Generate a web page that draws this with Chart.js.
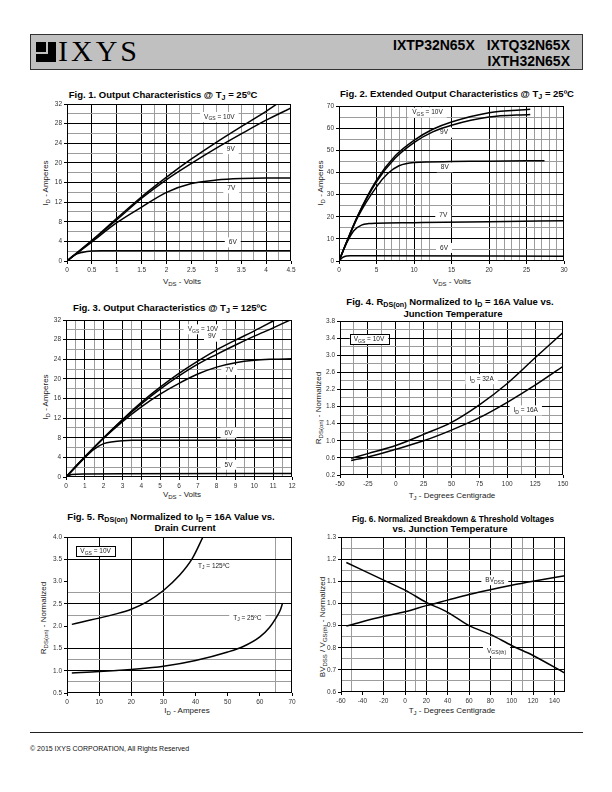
<!DOCTYPE html>
<html>
<head>
<meta charset="utf-8">
<script src="https://cdn.jsdelivr.net/npm/chart.js@4/dist/chart.umd.min.js"></script>
<style>
  body { margin:0; width:612px; height:792px; position:relative; background:#fff; overflow:hidden;
         font-family:"Liberation Sans", Arial, sans-serif; }
  canvas { position:absolute; }
  .ttl { position:absolute; transform:translate(-50%,-50%); white-space:nowrap; color:#000;
         font:bold 9.5px "Liberation Sans Narrow","Arial Narrow","Liberation Sans",sans-serif; }
  .ax { position:absolute; transform:translate(-50%,-50%); white-space:nowrap; color:#222;
        font:8px "Liberation Sans", Arial, sans-serif; }
  .ay { position:absolute; transform:translate(-50%,-50%) rotate(-90deg); white-space:nowrap; color:#222;
        font:8px "Liberation Sans", Arial, sans-serif; }
  sub { font-size:75%; vertical-align:-2px; line-height:0; }
</style>
</head>
<body>

<!-- header -->
<div style="position:absolute;left:30px;top:34px;width:551px;height:34px;background:#c0c0c0;border:1px solid #333"></div>
<div style="position:absolute;left:36px;top:42px;width:20px;height:20px;background:#000"></div>
<div style="position:absolute;left:46px;top:42px;width:2px;height:12px;background:#c0c0c0"></div>
<div style="position:absolute;left:36px;top:52px;width:12px;height:2px;background:#c0c0c0"></div>
<div style="position:absolute;left:58px;top:36px;font:30px 'Liberation Serif',serif;line-height:30px;letter-spacing:3px;color:#000">IXYS</div>
<div style="position:absolute;right:42px;top:37px;font:bold 14px 'Liberation Sans',Arial,sans-serif;line-height:16px">IXTP32N65X<span style="margin-left:12px">IXTQ32N65X</span></div>
<div style="position:absolute;right:42px;top:53px;font:bold 14px 'Liberation Sans',Arial,sans-serif;line-height:16px">IXTH32N65X</div>

<!-- titles -->
<div class="ttl" style="left:163px;top:94px">Fig. 1. Output Characteristics @ T<sub>J</sub> = 25ºC</div>
<div class="ttl" style="left:457px;top:93px">Fig. 2. Extended Output Characteristics @ T<sub>J</sub> = 25ºC</div>
<div class="ttl" style="left:170px;top:307px">Fig. 3. Output Characteristics @ T<sub>J</sub> = 125ºC</div>
<div class="ttl" style="left:450px;top:301px">Fig. 4. R<sub>DS(on)</sub> Normalized to I<sub>D</sub> = 16A Value vs.</div>
<div class="ttl" style="left:453px;top:313px">Junction Temperature</div>
<div class="ttl" style="left:171px;top:516px">Fig. 5. R<sub>DS(on)</sub> Normalized to I<sub>D</sub> = 16A Value vs.</div>
<div class="ttl" style="left:185px;top:527px">Drain Current</div>
<div class="ttl" style="left:453px;top:518px;transform:translate(-50%,-50%) scaleX(0.86)">Fig. 6. Normalized Breakdown &amp; Threshold Voltages</div>
<div class="ttl" style="left:450px;top:528px">vs. Junction Temperature</div>

<!-- axis titles -->
<div class="ax" style="left:182px;top:281px">V<sub>DS</sub> - Volts</div>
<div class="ay" style="left:45px;top:183px">I<sub>D</sub> - Amperes</div>
<div class="ax" style="left:452px;top:281px">V<sub>DS</sub> - Volts</div>
<div class="ay" style="left:320px;top:183px">I<sub>D</sub> - Amperes</div>
<div class="ax" style="left:182px;top:494px">V<sub>DS</sub> - Volts</div>
<div class="ay" style="left:45px;top:397px">I<sub>D</sub> - Amperes</div>
<div class="ax" style="left:452px;top:495px">T<sub>J</sub> - Degrees Centigrade</div>
<div class="ay" style="left:318px;top:408px">R<sub>DS(on)</sub> - Normalized</div>
<div class="ax" style="left:187px;top:710px">I<sub>D</sub> - Amperes</div>
<div class="ay" style="left:43px;top:618px">R<sub>DS(on)</sub> - Normalized</div>
<div class="ax" style="left:452px;top:710px">T<sub>J</sub> - Degrees Centigrade</div>
<div class="ay" style="left:322px;top:627px">BV<sub>DSS</sub> / V<sub>GS(th)</sub> - Normalized</div>

<canvas id="c1" width="262" height="177" style="left:37px;top:98px"></canvas>
<canvas id="c2" width="263" height="175" style="left:309px;top:100px"></canvas>
<canvas id="c3" width="264" height="177" style="left:36px;top:314px"></canvas>
<canvas id="c4" width="261" height="174" style="left:310px;top:315px"></canvas>
<canvas id="c5" width="263" height="176" style="left:37px;top:531px"></canvas>
<canvas id="c6" width="262" height="175" style="left:311px;top:531px"></canvas>

<!-- footer -->
<div style="position:absolute;left:30px;top:732px;width:553px;height:1px;background:#222"></div>
<div style="position:absolute;left:30px;top:745px;font:7px 'Liberation Sans',Arial,sans-serif;color:#111">© 2015 IXYS CORPORATION, All Rights Reserved</div>

<script>
// ---------- Fig. 1: output characteristics @ 25C ----------
const f1XLabels = ['0','0.5','1','1.5','2','2.5','3','3.5','4','4.5'];
const f1YLabels = ['0','4','8','12','16','20','24','28','32'];
const f1V10x = [0, 0.5, 1, 1.5, 2, 2.5, 3, 3.5, 4, 4.22];
const f1V10y = [0, 4.2, 8.7, 13.1, 17.1, 20.8, 24.2, 27.4, 30.5, 32];
const f1V9x  = [0, 0.5, 1, 1.5, 2, 2.5, 3, 3.5, 4, 4.5];
const f1V9y  = [0, 4.1, 8.4, 12.8, 16.6, 19.9, 23.0, 25.9, 28.7, 31.2];
const f1V7x  = [0, 0.5, 1, 1.5, 2, 2.5, 3, 3.5, 4, 4.5];
const f1V7y  = [0, 3.9, 7.8, 11.0, 14.0, 15.8, 16.5, 16.8, 16.9, 16.9];
const f1V6x  = [0, 0.1, 0.2, 0.3, 0.4, 0.5, 0.7, 1, 4.5];
const f1V6y  = [0, 0.9, 1.45, 1.75, 1.95, 2.05, 2.1, 2.1, 2.1];

// ---------- Fig. 2: extended output characteristics @ 25C ----------
const f2XLabels = ['0','5','10','15','20','25','30'];
const f2YLabels = ['0','10','20','30','40','50','60','70'];
const f2V10x = [0, 1, 2.5, 5, 7.5, 10, 12.5, 15, 20, 25.5];
const f2V10y = [0, 8.5, 20.5, 36.5, 47.5, 54.5, 59.5, 62.8, 67.0, 68.5];
const f2V9x  = [0, 1, 2.5, 5, 7.5, 10, 12.5, 15, 20, 25.5];
const f2V9y  = [0, 8.5, 20.3, 35.8, 46.5, 53.5, 58.3, 61.3, 65.0, 66.2];
const f2V8x  = [0, 1, 2.5, 5, 6.5, 8, 10, 15, 20, 27.4];
const f2V8y  = [0, 8.3, 19.8, 33.5, 39.5, 43.0, 44.5, 44.9, 45.1, 45.3];
const f2V7x  = [0, 1, 2, 3, 4, 5, 10, 20, 30];
const f2V7y  = [0, 8, 13.8, 16.2, 16.9, 17.1, 17.3, 17.7, 18.2];
const f2V6x  = [0, 0.5, 1, 1.5, 3, 30];
const f2V6y  = [0, 1.6, 2.3, 2.4, 2.4, 2.2];

// ---------- Fig. 3: output characteristics @ 125C ----------
const f3XLabels = ['0','1','2','3','4','5','6','7','8','9','10','11','12'];
const f3YLabels = ['0','4','8','12','16','20','24','28','32'];
const f3V10x = [0, 1, 2, 3, 4, 5, 6, 7, 8, 9, 10, 11.1];
const f3V10y = [0, 4.1, 8.0, 11.7, 15.2, 18.3, 21.1, 23.6, 25.9, 27.9, 29.8, 32];
const f3V9x  = [0, 1, 2, 3, 4, 5, 6, 7, 8, 9, 10, 11, 11.9];
const f3V9y  = [0, 4.1, 8.0, 11.6, 14.9, 17.9, 20.6, 23.0, 25.0, 26.9, 28.7, 30.4, 32];
const f3V7x  = [0, 1, 2, 3, 4, 5, 6, 7, 8, 9, 10, 11, 12];
const f3V7y  = [0, 4.0, 7.9, 11.3, 14.3, 16.9, 19.1, 21.0, 22.4, 23.3, 23.8, 24.0, 24.1];
const f3V6x  = [0, 1, 1.5, 2, 2.5, 3, 3.5, 12];
const f3V6y  = [0, 4.0, 5.7, 6.8, 7.2, 7.4, 7.5, 7.5];
const f3V5x  = [0, 0.3, 1, 3, 12];
const f3V5y  = [0, 0.5, 0.6, 0.65, 0.7];

// ---------- Fig. 4: RDS(on) vs junction temperature ----------
const f4XLabels = ['-50','-25','0','25','50','75','100','125','150'];
const f4YLabels = ['0.2','0.6','1.0','1.4','1.8','2.2','2.6','3.0','3.4','3.8'];
const f4Temp   = [-40, -25, 0, 25, 50, 75, 100, 125, 150];
const f4Id32   = [0.59, 0.70, 0.89, 1.15, 1.43, 1.84, 2.34, 2.94, 3.53];
const f4Id16   = [0.54, 0.62, 0.80, 1.00, 1.25, 1.54, 1.90, 2.30, 2.74];

// ---------- Fig. 5: RDS(on) vs drain current ----------
const f5XLabels = ['0','10','20','30','40','50','60','70'];
const f5YLabels = ['0.5','1.0','1.5','2.0','2.5','3.0','3.5','4.0'];
const f5T125x = [1.5, 5, 10, 15, 20, 25, 30, 35, 39, 42.3];
const f5T125y = [2.04, 2.1, 2.18, 2.27, 2.38, 2.55, 2.80, 3.14, 3.52, 4.0];
const f5T25x  = [1.5, 10, 20, 30, 40, 50, 55, 60, 63, 65, 66.3, 67];
const f5T25y  = [0.95, 0.98, 1.03, 1.10, 1.23, 1.42, 1.55, 1.76, 1.97, 2.18, 2.35, 2.5];

// ---------- Fig. 6: breakdown & threshold vs temperature ----------
const f6XLabels = ['-60','-40','-20','0','20','40','60','80','100','120','140'];
const f6YLabels = ['0.6','0.7','0.8','0.9','1.0','1.1','1.2','1.3'];
const f6Temp  = [-55, -20, 0, 20, 40, 60, 80, 100, 120, 150];
const f6Bvdss = [0.898, 0.942, 0.962, 0.99, 1.015, 1.040, 1.062, 1.082, 1.100, 1.125];
const f6Vth   = [1.185, 1.105, 1.06, 1.005, 0.96, 0.90, 0.86, 0.81, 0.765, 0.685];

// ---------- helpers ----------
const FONT = '"Liberation Sans", Arial, sans-serif';
const near = (arr, v) => arr.some(a => Math.abs(a - v) < 1e-6);
const range = (a, b, s) => { const r = []; for (let v = a; v <= b + 1e-9; v += s) r.push(+v.toFixed(4)); return r; };

function pts(xs, ys) { return xs.map((x, i) => ({ x: x, y: ys[i] })); }

function curve(xs, ys) {
  return { data: pts(xs, ys), showLine: true, borderColor: '#000', borderWidth: 1.5,
           pointRadius: 0, cubicInterpolationMode: 'monotone', fill: false };
}

// axis with labelled ticks, black major grid lines and gray minor ones
function axis(labels, black, gray, isX, min, max) {
  const vals = labels.map(parseFloat);
  const lo = min !== undefined ? min : vals[0];
  const hi = max !== undefined ? max : vals[vals.length - 1];
  const all = [...new Set([lo, hi, ...vals, ...black, ...gray])].sort((a, b) => a - b);
  return {
    type: 'linear', min: lo, max: hi,
    afterBuildTicks: s => { s.ticks = all.map(v => ({ value: v })); },
    afterFit: s => { if (isX) s.height = 14; else s.width = 30; },
    ticks: {
      autoSkip: false, maxRotation: 0, padding: 2, color: '#333',
      font: { size: 6.5, family: FONT },
      callback: v => { const i = vals.findIndex(a => Math.abs(a - v) < 1e-6); return i < 0 ? '' : labels[i]; }
    },
    grid: {
      lineWidth: 1, tickLength: 3, drawTicks: true,
      color: c => {
        const v = c.tick ? c.tick.value : NaN;
        if (near(black, v)) return '#000';
        if (near(gray, v)) return '#9c9c9c';
        return 'rgba(0,0,0,0)';
      },
      tickColor: c => (c.tick && near(vals, c.tick.value)) ? '#000' : 'rgba(0,0,0,0)'
    },
    border: { display: false }
  };
}

// text with subscripts drawn at data coordinates
function drawNote(chart, n) {
  const ctx = chart.ctx;
  const px = chart.scales.x.getPixelForValue(n.x);
  const py = chart.scales.y.getPixelForValue(n.y);
  const main = '6.5px ' + FONT, small = '5px ' + FONT;
  ctx.save();
  let w = 0;
  n.parts.forEach(p => { ctx.font = p[1] ? small : main; w += ctx.measureText(p[0]).width; });
  const x0 = px - w / 2;
  if (n.bg || n.box) {
    ctx.fillStyle = '#fff';
    ctx.fillRect(x0 - 4, py - 5, w + 8, 10);
  }
  if (n.box) {
    ctx.strokeStyle = '#000'; ctx.lineWidth = 1;
    ctx.strokeRect(Math.round(x0 - 4) + 0.5, Math.round(py - 5) + 0.5, Math.round(w + 8), 10);
  }
  ctx.fillStyle = '#222';
  ctx.textBaseline = 'middle';
  let x = x0;
  n.parts.forEach(p => {
    ctx.font = p[1] ? small : main;
    ctx.fillText(p[0], x, p[1] ? py + 2 : py);
    x += ctx.measureText(p[0]).width;
  });
  ctx.restore();
}

const framePlugin = {
  id: 'frame',
  beforeDatasetsDraw(chart) {
    const a = chart.chartArea, ctx = chart.ctx;
    (chart.options.plugins.notes || []).forEach(n => drawNote(chart, n));
    ctx.save();
    ctx.strokeStyle = '#000'; ctx.lineWidth = 1;
    ctx.strokeRect(Math.round(a.left) + 0.5, Math.round(a.top) + 0.5,
                   Math.round(a.width) - 1, Math.round(a.height) - 1);
    ctx.restore();
  }
};

function makeChart(id, datasets, xAx, yAx, notes) {
  return new Chart(document.getElementById(id), {
    type: 'scatter',
    data: { datasets: datasets },
    options: {
      responsive: false, animation: false, devicePixelRatio: 1,
      layout: { padding: { top: 6, right: 8, left: 0, bottom: 0 } },
      scales: { x: xAx, y: yAx },
      plugins: { legend: { display: false }, tooltip: { enabled: false }, notes: notes }
    },
    plugins: [framePlugin]
  });
}

const VGS = v => [['V', 0], ['GS', 1], [' = ' + v, 0]];

makeChart('c1',
  [curve(f1V10x, f1V10y), curve(f1V9x, f1V9y), curve(f1V7x, f1V7y), curve(f1V6x, f1V6y)],
  axis(f1XLabels, [0.5, 1, 1.5, 2, 4], [1.75, 2.25, 2.5, 2.75, 3, 3.25, 3.5, 3.75, 4.25], true),
  axis(f1YLabels, range(4, 28, 4), range(2, 30, 4), false),
  [ { x: 3.06, y: 29.35, parts: VGS('10V'), bg: true },
    { x: 3.29, y: 22.8, parts: [['9V', 0]], bg: true },
    { x: 3.3, y: 14.8, parts: [['7V', 0]], bg: true },
    { x: 3.33, y: 3.8, parts: [['6V', 0]], bg: true } ]);

makeChart('c2',
  [curve(f2V10x, f2V10y), curve(f2V9x, f2V9y), curve(f2V8x, f2V8y), curve(f2V7x, f2V7y), curve(f2V6x, f2V6y)],
  axis(f2XLabels, [5, 10, 15, 20, 25], [6, 7, 8, 9, 11, 12, 21, 22, 23, 24, 26, 27, 28, 29], true),
  axis(f2YLabels, range(10, 60, 10), range(5, 65, 10), false),
  [ { x: 11.8, y: 67, parts: VGS('10V'), bg: true },
    { x: 14.0, y: 58.0, parts: [['9V', 0]], bg: true },
    { x: 14.1, y: 42.3, parts: [['8V', 0]], bg: true },
    { x: 13.9, y: 20.8, parts: [['7V', 0]], bg: true },
    { x: 14.0, y: 5.9, parts: [['6V', 0]], bg: true } ]);

makeChart('c3',
  [curve(f3V10x, f3V10y), curve(f3V9x, f3V9y), curve(f3V7x, f3V7y), curve(f3V6x, f3V6y), curve(f3V5x, f3V5y)],
  axis(f3XLabels, range(1, 11, 1), [0.5, 1.5, 3.5, 6.5, 8.5, 9.5, 11.5], true),
  axis(f3YLabels, range(4, 28, 4), range(2, 30, 4), false),
  [ { x: 7.27, y: 30.1, parts: VGS('10V'), bg: true },
    { x: 7.75, y: 28.6, parts: [['9V', 0]], bg: true },
    { x: 8.67, y: 21.8, parts: [['7V', 0]], bg: true },
    { x: 8.63, y: 9.0, parts: [['6V', 0]], bg: true },
    { x: 8.63, y: 2.5, parts: [['5V', 0]], bg: true } ]);

makeChart('c4',
  [curve(f4Temp, f4Id32), curve(f4Temp, f4Id16)],
  axis(f4XLabels, range(-25, 125, 25), range(-37.5, 137.5, 25), true),
  axis(f4YLabels, range(0.6, 3.4, 0.4), range(0.4, 3.6, 0.4), false),
  [ { x: -24, y: 3.37, parts: VGS('10V'), box: true },
    { x: 77, y: 2.44, parts: [['I', 0], ['D', 1], [' = 32A', 0]], bg: true },
    { x: 116.6, y: 1.71, parts: [['I', 0], ['D', 1], [' = 16A', 0]], bg: true } ]);

makeChart('c5',
  [curve(f5T125x, f5T125y), curve(f5T25x, f5T25y)],
  axis(f5XLabels, [10, 20, 30], [65], true),
  axis(f5YLabels, [1.0, 1.5, 2.5, 3.5], [0.75, 1.25, 2.25, 2.75], false),
  [ { x: 8.9, y: 3.68, parts: VGS('10V'), box: true },
    { x: 45.7, y: 3.35, parts: [['T', 0], ['J', 1], [' = 125ºC', 0]], bg: true },
    { x: 56.1, y: 2.18, parts: [['T', 0], ['J', 1], [' = 25ºC', 0]], bg: true } ]);

makeChart('c6',
  [curve(f6Temp, f6Bvdss), curve(f6Temp, f6Vth)],
  axis(f6XLabels, range(-20, 140, 20), [-50, 10, 110], true, -60, 150),
  axis(f6YLabels, range(0.7, 1.2, 0.1), range(0.65, 1.25, 0.1), false),
  [ { x: 84.2, y: 1.105, parts: [['BV', 0], ['DSS', 1]], bg: true },
    { x: 85.8, y: 0.785, parts: [['V', 0], ['GS(th)', 1]], bg: true } ]);
</script>
</body>
</html>
